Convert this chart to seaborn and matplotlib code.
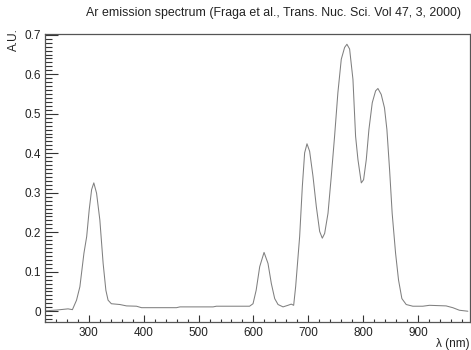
import matplotlib
matplotlib.use("Agg")
import matplotlib.pyplot as plt
from matplotlib.ticker import MultipleLocator
import seaborn as sns
import pandas as pd

# Wavelength (nm) and intensity (A.U.)
wavelength = [220, 241, 262, 270, 277.5, 283.6, 291, 296, 300.6, 305, 309, 314, 320,
              326, 331, 335, 341, 356.5, 368.6, 386.8, 396, 417, 459.7, 466, 526.5,
              532.5, 587, 593, 599.3, 605, 611.5, 619.4, 626.6, 632.7, 638.8, 644.9,
              654, 663, 669, 673.4, 677, 684.3, 689.2, 693.4, 697.7, 702.5, 708.6,
              714.7, 720.8, 725.6, 729.9, 736, 742, 748, 754, 760.2, 766.3, 770.5,
              775.4, 781.5, 786.3, 790.6, 796.7, 800.9, 805.8, 810.6, 816.7, 822.8,
              827, 833, 839, 843.4, 848.3, 853, 859.2, 864.6, 870.7, 878.6, 890.7,
              908.9, 921, 951.3, 963.5, 975.6, 991]
intensity = [0.001, 0.003, 0.006, 0.004, 0.028, 0.062, 0.147, 0.189, 0.257, 0.308,
             0.325, 0.299, 0.231, 0.121, 0.053, 0.028, 0.019, 0.017, 0.0135, 0.0127,
             0.009, 0.009, 0.009, 0.011, 0.011, 0.0127, 0.0127, 0.0127, 0.019, 0.053,
             0.113, 0.149, 0.121, 0.070, 0.032, 0.017, 0.011, 0.015, 0.018, 0.015,
             0.062, 0.189, 0.316, 0.401, 0.424, 0.405, 0.342, 0.265, 0.202, 0.185,
             0.197, 0.248, 0.342, 0.443, 0.553, 0.638, 0.668, 0.676, 0.664, 0.587,
             0.443, 0.384, 0.325, 0.333, 0.384, 0.460, 0.528, 0.558, 0.564, 0.549,
             0.515, 0.460, 0.358, 0.248, 0.147, 0.079, 0.032, 0.017, 0.0127, 0.0127,
             0.015, 0.0135, 0.009, 0.0025, 0.0]

title = "Ar emission spectrum (Fraga et al., Trans. Nuc. Sci. Vol 47, 3, 2000)"
xlabel = "\u03bb (nm)"
ylabel = "A.U."

sns.set_style("white")
plt.rcParams["font.family"] = ["Liberation Sans", "DejaVu Sans"]

df = pd.DataFrame({"wavelength": wavelength, "intensity": intensity})

fig = plt.figure(figsize=(4.71, 3.5), dpi=100)
ax = fig.add_axes([45 / 471, 28.5 / 350, 424.5 / 471, 287.5 / 350])

sns.lineplot(data=df, x="wavelength", y="intensity", ax=ax, color="#808080",
             linewidth=0.75, sort=False)

ax.set_xlim(220, 994)
ax.set_ylim(-0.026, 0.702)
ax.xaxis.set_minor_locator(MultipleLocator(20))
ax.yaxis.set_minor_locator(MultipleLocator(0.01))
ax.set_yticks([0, 0.1, 0.2, 0.3, 0.4, 0.5, 0.6, 0.7])
ax.set_yticklabels(["0", "0.1", "0.2", "0.3", "0.4", "0.5", "0.6", "0.7"])
ax.set_xticks([300, 400, 500, 600, 700, 800, 900])

ax.tick_params(axis="both", which="both", direction="in", colors="#333333",
               labelcolor="#222222", labelsize=8.5, top=False, right=False,
               bottom=True, left=True, width=0.8)
ax.tick_params(axis="x", which="major", length=5, pad=4)
ax.tick_params(axis="x", which="minor", length=2.5)
ax.tick_params(axis="y", which="major", length=9.5, pad=3)
ax.tick_params(axis="y", which="minor", length=5)

for side in ["left", "bottom", "right", "top"]:
    ax.spines[side].set_visible(True)
    ax.spines[side].set_color("#555555")
    ax.spines[side].set_linewidth(0.9)

ax.set_xlabel("")
ax.set_ylabel("")

fig.text(273.5 / 471, 1 - 13.3 / 350, title, ha="center", va="center",
         fontsize=8.9, color="#222222")
fig.text(470 / 471, 1 - 344 / 350, xlabel, ha="right", va="center",
         fontsize=8.5, color="#222222")
fig.text(14 / 471, 1 - 28 / 350, ylabel, ha="center", va="top", rotation=90,
         fontsize=8.5, color="#222222")

fig.savefig("out.png", dpi=100, facecolor="white")
